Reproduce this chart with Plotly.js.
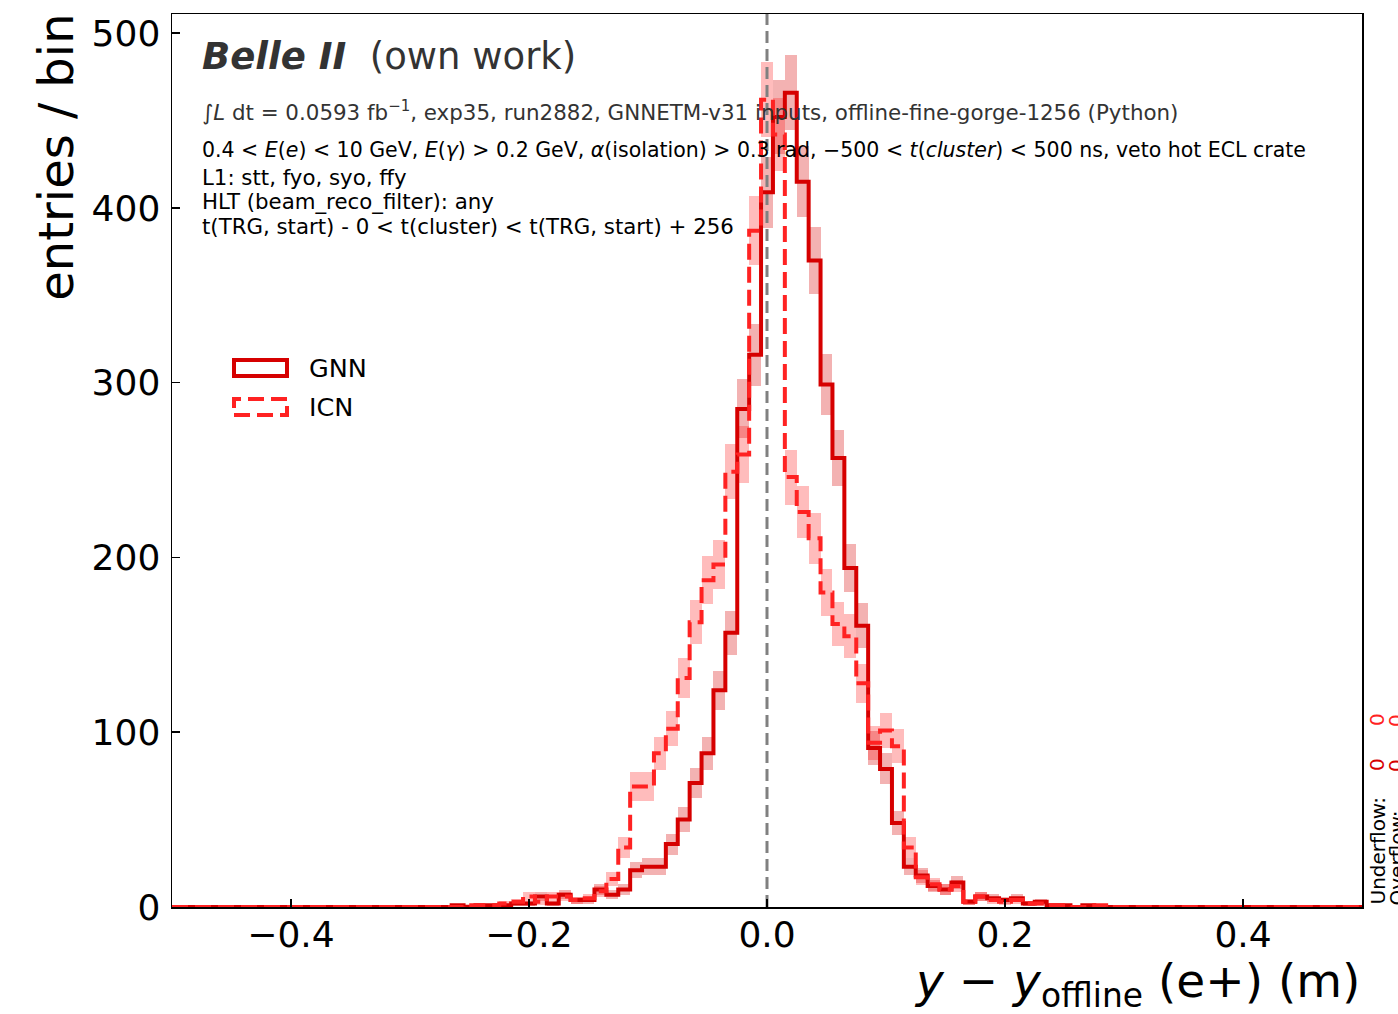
<!DOCTYPE html>
<html>
<head>
<meta charset="utf-8">
<script src="https://cdn.plot.ly/plotly-3.0.1.min.js"></script>
<style>
html,body{margin:0;padding:0;background:#fff;}
#chart{width:1398px;height:1014px;}
</style>
</head>
<body>
<div id="chart"></div>
<script>
// bin centres (m), bin width 0.01
const binCenters = [
 -0.30,-0.29,-0.28,-0.27,-0.26,-0.25,-0.24,-0.23,-0.22,-0.21,
 -0.20,-0.19,-0.18,-0.17,-0.16,-0.15,-0.14,-0.13,-0.12,-0.11,
 -0.10,-0.09,-0.08,-0.07,-0.06,-0.05,-0.04,-0.03,-0.02,-0.01,
  0.00, 0.01, 0.02, 0.03, 0.04, 0.05, 0.06, 0.07, 0.08, 0.09,
  0.10, 0.11, 0.12, 0.13, 0.14, 0.15, 0.16, 0.17, 0.18, 0.19,
  0.20, 0.21, 0.22, 0.23, 0.24, 0.25, 0.26, 0.27, 0.28, 0.29, 0.30];
const binWidth = 0.01;
const xRange = [-0.5, 0.5];

const gnnCounts = [
  0, 0, 0, 0, 1, 0, 1, 1, 1, 2,
  2, 6, 2, 7, 4, 4, 10, 7, 10, 21,
  23, 23, 36, 50, 71, 88, 124, 157, 285, 316,
  409, 452, 466, 415, 370, 299, 257, 194, 161, 91,
  79, 48, 23, 18, 12, 10, 14, 3, 6, 5,
  4, 5, 2, 3, 1, 1, 0, 1, 0, 0, 0];

const icnCounts = [
  0, 0, 0, 0, 0, 1, 1, 1, 2, 3,
  6, 3, 6, 6, 4, 5, 9, 16, 34, 69,
  69, 88, 102, 131, 163, 187, 196, 249, 259, 387,
  462, 442, 246, 226, 211, 180, 162, 155, 128, 94,
  101, 92, 34, 17, 13, 10, 12, 3, 6, 4,
  3, 4, 2, 2, 1, 1, 0, 0, 1, 0, 0];

const seriesNames = ["GNN", "ICN"];
const refLineX = 0;
const yTickVals = [0, 100, 200, 300, 400, 500];
const xTickVals = [-0.4, -0.2, 0.0, 0.2, 0.4];
const xTickText = ["\u22120.4", "\u22120.2", "0.0", "0.2", "0.4"];

const GNN_COLOR = "rgb(214,0,0)";
const ICN_COLOR = "rgb(255,34,34)";

function stepLine(counts) {
  const xs = [xRange[0]], ys = [0];
  for (let i = 0; i < binCenters.length; i++) {
    const l = binCenters[i] - binWidth / 2, r = binCenters[i] + binWidth / 2;
    xs.push(l, r); ys.push(counts[i], counts[i]);
  }
  xs.push(xRange[1]); ys.push(0);
  return {xs, ys};
}
function band(counts, color) {
  const err = counts.map(v => Math.sqrt(v));
  return {
    type: "bar", x: binCenters, y: err.map(e => 2 * e),
    base: counts.map((v, i) => v - err[i]), width: binWidth,
    marker: {color: color, line: {width: 0}}, showlegend: false, hoverinfo: "skip"
  };
}

const g = stepLine(gnnCounts), c = stepLine(icnCounts);
const traces = [
  band(gnnCounts, "rgba(214,0,0,0.3)"),
  band(icnCounts, "rgba(255,34,34,0.3)"),
  {type: "scatter", mode: "lines", x: [refLineX, refLineX], y: [0, 520],
   line: {color: "rgb(128,128,128)", width: 3, dash: "12px,6px"}, showlegend: false},
  {type: "scatter", mode: "lines", x: g.xs, y: g.ys, name: seriesNames[0],
   line: {color: GNN_COLOR, width: 4}, showlegend: false},
  {type: "scatter", mode: "lines", x: c.xs, y: c.ys, name: seriesNames[1],
   line: {color: ICN_COLOR, width: 4, dash: "16px,7px"}, showlegend: false}
];

const L = 172, R = 1362, T = 14, B = 907;
const px = x => (x - L) / (R - L);
const py = y => (B - y) / (B - T);
const FONT = "DejaVu Sans, sans-serif";

const annotations = [
  {x: px(200), y: py(57), xref: "paper", yref: "paper", xanchor: "left", yanchor: "middle",
   text: "<b><i>Belle II</i></b>  (own work)", showarrow: false,
   font: {family: FONT, size: 37, color: "#333333"}},
  {x: px(200), y: py(111), xref: "paper", yref: "paper", xanchor: "left", yanchor: "middle",
   text: "\u222B<i>L</i> dt = 0.0593 fb<sup>\u22121</sup>, exp35, run2882, GNNETM-v31 inputs, offline-fine-gorge-1256 (Python)",
   showarrow: false, font: {family: FONT, size: 21.4, color: "#333333"}},
  {x: px(200), y: py(150), xref: "paper", yref: "paper", xanchor: "left", yanchor: "middle",
   text: "0.4 &lt; <i>E</i>(<i>e</i>) &lt; 10 GeV, <i>E</i>(<i>\u03B3</i>) &gt; 0.2 GeV, <i>\u03B1</i>(isolation) &gt; 0.3 rad, \u2212500 &lt; <i>t</i>(<i>cluster</i>) &lt; 500 ns, veto hot ECL crate",
   showarrow: false, font: {family: FONT, size: 20.5, color: "#000"}},
  {x: px(200), y: py(177), xref: "paper", yref: "paper", xanchor: "left", yanchor: "middle",
   text: "L1: stt, fyo, syo, ffy", showarrow: false, font: {family: FONT, size: 21.3, color: "#000"}},
  {x: px(200), y: py(201), xref: "paper", yref: "paper", xanchor: "left", yanchor: "middle",
   text: "HLT (beam_reco_filter): any", showarrow: false, font: {family: FONT, size: 21.3, color: "#000"}},
  {x: px(200), y: py(226), xref: "paper", yref: "paper", xanchor: "left", yanchor: "middle",
   text: "t(TRG, start) - 0 &lt; t(cluster) &lt; t(TRG, start) + 256", showarrow: false,
   font: {family: FONT, size: 21.3, color: "#000"}},
  // legend text
  {x: px(307), y: py(368), xref: "paper", yref: "paper", xanchor: "left", yanchor: "middle",
   text: seriesNames[0], showarrow: false, font: {family: FONT, size: 25.5, color: "#000"}},
  {x: px(307), y: py(407), xref: "paper", yref: "paper", xanchor: "left", yanchor: "middle",
   text: seriesNames[1], showarrow: false, font: {family: FONT, size: 25.5, color: "#000"}},
  // axis titles
  {x: 1, y: py(984), xref: "paper", yref: "paper", xanchor: "right", yanchor: "middle",
   text: "<i>y</i> \u2212 <i>y</i><sub>offline</sub> (e+) (m)", showarrow: false,
   font: {family: FONT, size: 47, color: "#000"}},
  {x: px(56), y: 1.002, xref: "paper", yref: "paper", xanchor: "center", yanchor: "top", textangle: -90,
   text: "entries / bin", showarrow: false, font: {family: FONT, size: 48, color: "#000"}},
  // under/overflow
  {x: px(1377), y: 0, xref: "paper", yref: "paper", xanchor: "center", yanchor: "bottom", textangle: -90,
   text: "Underflow:", showarrow: false, font: {family: FONT, size: 20, color: "#000"}},
  {x: px(1377), y: py(765), xref: "paper", yref: "paper", xanchor: "center", yanchor: "middle", textangle: -90,
   text: "0", showarrow: false, font: {family: FONT, size: 20, color: GNN_COLOR}},
  {x: px(1377), y: py(720), xref: "paper", yref: "paper", xanchor: "center", yanchor: "middle", textangle: -90,
   text: "0", showarrow: false, font: {family: FONT, size: 20, color: ICN_COLOR}},
  {x: px(1396), y: 0, xref: "paper", yref: "paper", xanchor: "center", yanchor: "bottom", textangle: -90,
   text: "Overflow:", showarrow: false, font: {family: FONT, size: 20, color: "#000"}},
  {x: px(1396), y: py(765), xref: "paper", yref: "paper", xanchor: "center", yanchor: "middle", textangle: -90,
   text: "0", showarrow: false, font: {family: FONT, size: 20, color: GNN_COLOR}},
  {x: px(1396), y: py(720), xref: "paper", yref: "paper", xanchor: "center", yanchor: "middle", textangle: -90,
   text: "0", showarrow: false, font: {family: FONT, size: 20, color: ICN_COLOR}}
];

const shapes = [
  {type: "rect", xref: "paper", yref: "paper", x0: px(234), x1: px(287), y0: py(376), y1: py(360),
   line: {color: GNN_COLOR, width: 4}, fillcolor: "rgba(0,0,0,0)"},
  {type: "rect", xref: "paper", yref: "paper", x0: px(234), x1: px(287), y0: py(415), y1: py(399),
   line: {color: ICN_COLOR, width: 4, dash: "16px,7px"}, fillcolor: "rgba(0,0,0,0)"}
];

const layout = {
  width: 1398, height: 1014,
  margin: {l: L, r: 1398 - R, t: T, b: 1014 - B, pad: 0},
  paper_bgcolor: "#fff", plot_bgcolor: "#fff",
  barmode: "overlay", bargap: 0,
  showlegend: false,
  font: {family: FONT, color: "#000"},
  xaxis: {range: xRange, showgrid: false, zeroline: false, showline: true, mirror: true,
          linecolor: "#000", linewidth: 1.5, ticks: "inside", ticklen: 8, tickwidth: 1.5, tickcolor: "#000",
          ticklabelstandoff: -5,
          tickvals: xTickVals, ticktext: xTickText, tickfont: {family: FONT, size: 36, color: "#000"}},
  yaxis: {range: [0, 511], showgrid: false, zeroline: false, showline: true, mirror: true,
          linecolor: "#000", linewidth: 1.5, ticks: "inside", ticklen: 8, tickwidth: 1.5, tickcolor: "#000",
          ticklabelstandoff: 3,
          tickvals: yTickVals, tickfont: {family: FONT, size: 36, color: "#000"}},
  annotations: annotations,
  shapes: shapes
};

Plotly.newPlot("chart", traces, layout, {displayModeBar: false, staticPlot: true});
</script>
</body>
</html>
